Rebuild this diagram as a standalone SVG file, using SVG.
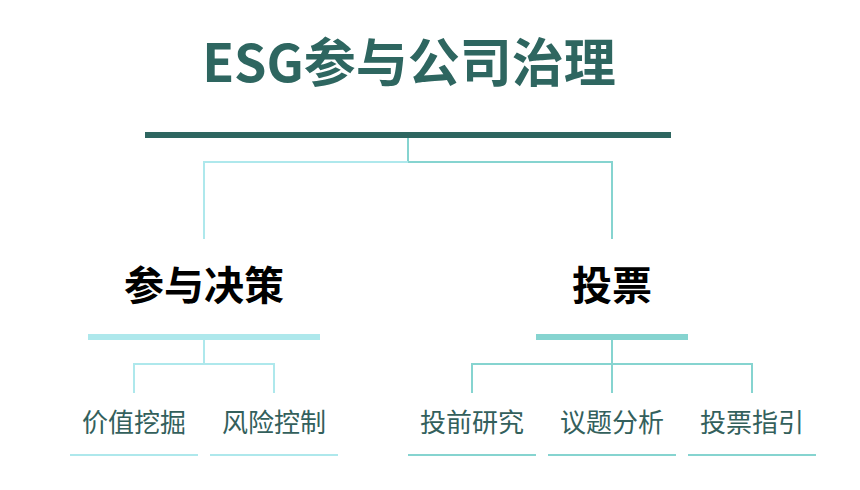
<svg xmlns="http://www.w3.org/2000/svg" width="860" height="490" viewBox="0 0 860 490">
<style>
.cjk{font-family:"Noto Sans CJK SC","Noto Sans",sans-serif;text-anchor:middle}
.title{font-size:52px;font-weight:700;fill:#2e6660}
.h2{font-size:40px;font-weight:700;fill:#000000}
.leaf{font-size:26px;font-weight:400;fill:#33605c}
.cl{stroke:#aee8ec;stroke-width:2;fill:none}
.cr{stroke:#86d4d0;stroke-width:2;fill:none}
</style>
<rect width="860" height="490" fill="#ffffff"/>
<g id="connectors">
<line class="cr" x1="408" y1="138" x2="408" y2="162"/>
<polyline class="cl" points="408,162 204,162 204,239"/>
<polyline class="cr" points="408,162 612,162 612,239"/>
<line class="cl" x1="204" y1="340" x2="204" y2="364"/>
<polyline class="cl" points="134,393 134,364 274,364 274,393"/>
<line class="cr" x1="612" y1="340" x2="612" y2="393"/>
<polyline class="cr" points="472,393 472,364 752,364 752,393"/>
</g>
<g id="root">
<text class="cjk title" x="409" y="82">ESG参与公司治理</text>
<rect x="145" y="132" width="526" height="6" fill="#2e6660"/>
</g>
<g id="decision">
<text class="cjk h2" x="204" y="300">参与决策</text>
<rect x="88" y="334" width="232" height="6" fill="#aee8ec"/>
</g>
<g id="vote">
<text class="cjk h2" x="612" y="300">投票</text>
<rect x="536" y="334" width="152" height="6" fill="#86d4d0"/>
</g>
<g id="value">
<text class="cjk leaf" x="134" y="432">价值挖掘</text>
<rect x="70" y="454" width="128" height="2" fill="#aee8ec"/>
</g>
<g id="risk">
<text class="cjk leaf" x="274" y="432">风险控制</text>
<rect x="210" y="454" width="128" height="2" fill="#aee8ec"/>
</g>
<g id="research">
<text class="cjk leaf" x="472" y="432">投前研究</text>
<rect x="408" y="454" width="128" height="2" fill="#86d4d0"/>
</g>
<g id="issue">
<text class="cjk leaf" x="612" y="432">议题分析</text>
<rect x="548" y="454" width="128" height="2" fill="#86d4d0"/>
</g>
<g id="guide">
<text class="cjk leaf" x="752" y="432">投票指引</text>
<rect x="688" y="454" width="128" height="2" fill="#86d4d0"/>
</g>
</svg>
